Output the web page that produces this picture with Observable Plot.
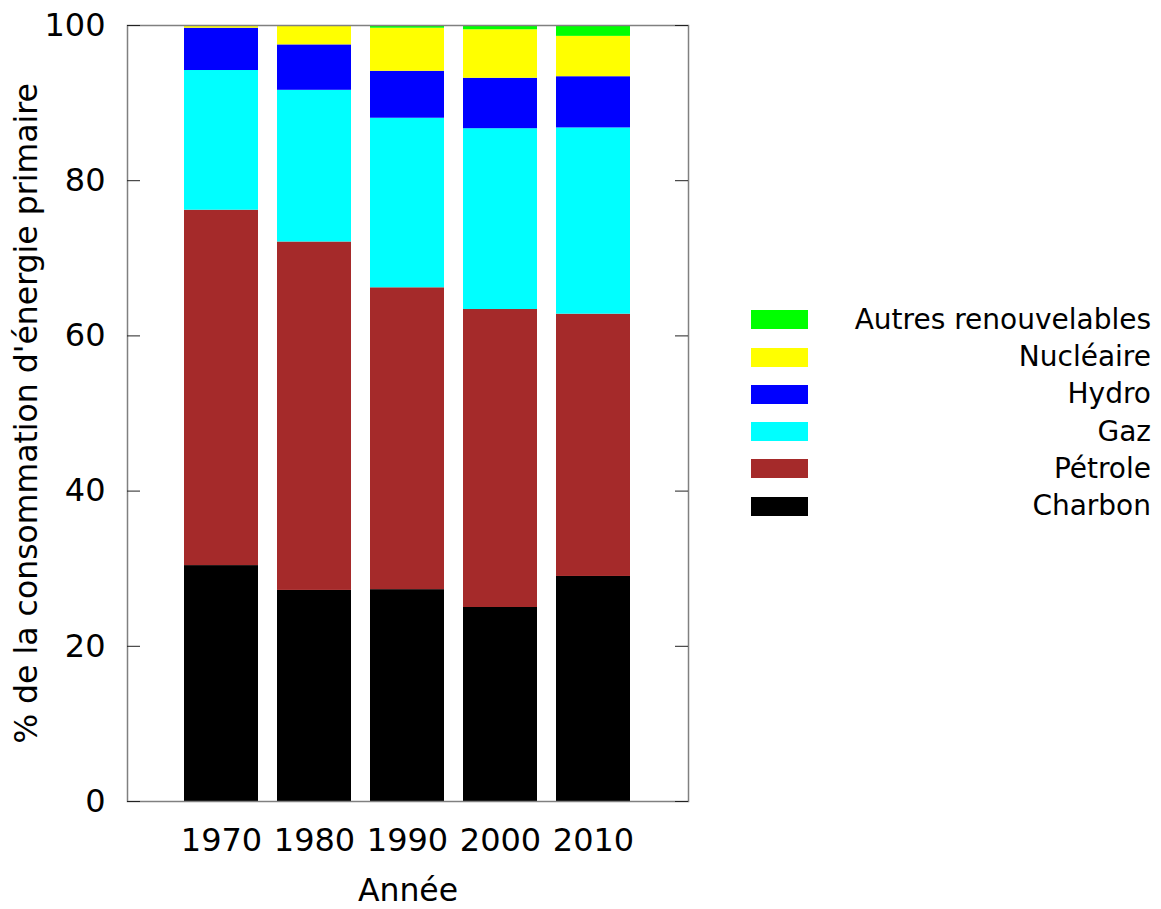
<!DOCTYPE html>
<html>
<head>
<meta charset="utf-8">
<script src="https://cdn.jsdelivr.net/npm/d3@7"></script>
<script src="https://cdn.jsdelivr.net/npm/@observablehq/plot@0.6"></script>
<style>
  html, body { margin: 0; padding: 0; background: #fff; }
  #wrap { position: relative; width: 1161px; height: 909px; font-family: "DejaVu Sans", sans-serif; }
  .lg-sw { position: absolute; width: 57px; height: 19px; }
  .lg-tx { position: absolute; font-size: 28px; line-height: 28px; white-space: nowrap; text-align: right; color: #000; }
</style>
</head>
<body>
<div id="wrap"></div>
<script>
const years = ["1970", "1980", "1990", "2000", "2010"];
const series = ["Charbon", "Pétrole", "Gaz", "Hydro", "Nucléaire", "Autres renouvelables"];
const colors = ["#000000", "#a52a2a", "#00ffff", "#0000ff", "#ffff00", "#00ff00"];
const charbon = [30.4, 27.2, 27.3, 25.0, 29.0];
const petrole = [45.8, 44.9, 38.9, 38.4, 33.8];
const gaz = [18.0, 19.55, 21.85, 23.3, 24.0];
const hydro = [5.45, 5.85, 6.05, 6.5, 6.6];
const nucleaire = [0.35, 2.4, 5.55, 6.25, 5.2];
const autres = [0, 0.1, 0.35, 0.55, 1.4];
const yTicks = [0, 20, 40, 60, 80, 100];
const xTitle = "Année";
const yTitle = "% de la consommation d'énergie primaire";

const seriesValues = [charbon, petrole, gaz, hydro, nucleaire, autres];
const data = [];
years.forEach((yr, i) => {
  series.forEach((s, j) => {
    data.push({year: yr, series: s, value: seriesValues[j][i]});
  });
});

const W = 1161, H = 909;
const mL = 127, mR = 473, mT = 25, mB = 108;
const plotW = W - mL - mR;

const chart = Plot.plot({
  width: W,
  height: H,
  marginLeft: mL,
  marginRight: mR,
  marginTop: mT,
  marginBottom: mB,
  style: {fontFamily: "DejaVu Sans", fontSize: "31px", color: "#000", background: "#fff"},
  x: {type: "band", domain: years, paddingInner: 0.2, paddingOuter: 0.6, align: 0.5},
  y: {domain: [0, 100]},
  color: {domain: series, range: colors},
  marks: [
    Plot.barY(data, {x: "year", y: "value", fill: "series"}),
    Plot.frame({stroke: "#808080", strokeWidth: 1.5}),
    Plot.ruleY(yTicks, {y: d => d, stroke: "#222", strokeWidth: 1, insetRight: plotW - 13}),
    Plot.ruleY(yTicks, {y: d => d, stroke: "#222", strokeWidth: 1, insetLeft: plotW - 13}),
    Plot.axisY({ticks: yTicks, tickSize: 0, tickPadding: 22, label: null, fontSize: 32}),
    Plot.axisX({tickSize: 0, tickPadding: 27, label: null, fontSize: 32}),
    Plot.text([yTitle], {text: d => d, frameAnchor: "left", dx: -101, rotate: -90, textAnchor: "middle", lineAnchor: "middle", fontSize: 31.5, fill: "#000"}),
    Plot.text([xTitle], {text: d => d, frameAnchor: "bottom", dy: 89, textAnchor: "middle", lineAnchor: "middle", fontSize: 31.5, fill: "#000"})
  ]
});

const wrap = document.getElementById("wrap");
wrap.appendChild(chart);

// Legend (top to bottom: reverse of stacking order)
const legendItems = series.map((s, i) => ({name: s, color: colors[i]})).reverse();
legendItems.forEach((it, k) => {
  const cy = 319.7 + k * 37.3;
  const sw = document.createElement("div");
  sw.className = "lg-sw";
  sw.style.left = "751px";
  sw.style.top = (cy - 9.5) + "px";
  sw.style.background = it.color;
  wrap.appendChild(sw);
  const tx = document.createElement("div");
  tx.className = "lg-tx";
  tx.style.right = (W - 1151) + "px";
  tx.style.top = (cy - 14) + "px";
  tx.textContent = it.name;
  wrap.appendChild(tx);
});
</script>
</body>
</html>
